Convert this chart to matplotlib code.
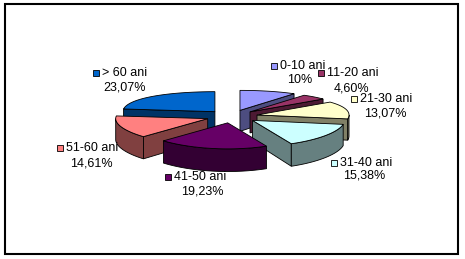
import numpy as np
import matplotlib
matplotlib.use("Agg")
import matplotlib.pyplot as plt
from matplotlib.patches import Polygon, Rectangle
from matplotlib.colors import to_rgb

# ---- data ----
categories = ["0-10 ani", "11-20 ani", "21-30 ani", "31-40 ani",
              "41-50 ani", "51-60 ani", "> 60 ani"]
values = [10.0, 4.60, 13.07, 15.38, 19.23, 14.61, 23.07]
pct_labels = ["10%", "4,60%", "13,07%", "15,38%", "19,23%", "14,61%", "23,07%"]

# ---- styles / layout ----
top_colors = ["#9999FF", "#993366", "#FFFFCC", "#CCFFFF",
              "#660066", "#FF8080", "#0066CC"]
# label layout (pixel positions): name-left x, name y, pct centre x, pct y
name_pos = [(280, 66), (327, 73), (360, 99), (340, 163),
            (174, 177), (66, 148), (102, 73)]
pct_pos = [(300, 80), (351, 88.5), (385, 114), (364, 176),
           (202, 191), (91, 163), (125, 87.5)]

W, H = 465, 259
fig = plt.figure(figsize=(W / 100, H / 100), dpi=100)
ax = fig.add_axes([0, 0, 1, 1])
ax.set_xlim(0, W)
ax.set_ylim(H, 0)
ax.axis("off")

cx, cy = 232, 116.5
rx, ry = 92, 23
persp = 3.0
depth = 21
explode = 0.28
lw = 0.6


def side_color(c):
    r, g, b = to_rgb(c)
    return (r / 2, g / 2, b / 2)


total = sum(values)
bounds = np.concatenate([[0], np.cumsum(values)]) / total * 360.0


def pt(theta, r, ox, oy, z=0.0):
    t = np.radians(theta)
    c = r * np.cos(t)
    return (cx + ox + r * rx * np.sin(t),
            cy + oy - ry * c + persp * c * c + z * (1 - 0.08 * c))


slices = []
for i, v in enumerate(values):
    a1, a2 = bounds[i], bounds[i + 1]
    mid = 0.5 * (a1 + a2)
    slices.append((np.cos(np.radians(mid)), i, a1, a2, mid))

# back to front
for _, i, a1, a2, mid in sorted(slices, key=lambda s: -s[0]):
    ox = explode * rx * np.sin(np.radians(mid))
    oy = -explode * ry * np.cos(np.radians(mid))
    tc = top_colors[i]
    sc = side_color(tc)
    apex_t = pt(0, 0, ox, oy)
    apex_b = pt(0, 0, ox, oy, depth)
    # radial faces
    if np.sin(np.radians(a1)) < -1e-9:
        poly = [apex_t, pt(a1, 1, ox, oy), pt(a1, 1, ox, oy, depth), apex_b]
        ax.add_patch(Polygon(poly, closed=True, fc=sc, ec="black", lw=lw))
    if np.sin(np.radians(a2)) > 1e-9:
        poly = [apex_t, pt(a2, 1, ox, oy), pt(a2, 1, ox, oy, depth), apex_b]
        ax.add_patch(Polygon(poly, closed=True, fc=sc, ec="black", lw=lw))
    # outer curved face
    lo, hi = max(a1, 90.0), min(a2, 270.0)
    if hi > lo:
        th = np.linspace(lo, hi, 60)
        topc = [pt(t, 1, ox, oy) for t in th]
        botc = [pt(t, 1, ox, oy, depth) for t in th[::-1]]
        ax.add_patch(Polygon(topc + botc, closed=True, fc=sc, ec="black", lw=lw))
    # top face
    th = np.linspace(a1, a2, 80)
    poly = [apex_t] + [pt(t, 1, ox, oy) for t in th]
    ax.add_patch(Polygon(poly, closed=True, fc=tc, ec="black", lw=lw))

# labels
font = dict(family=["Liberation Sans", "DejaVu Sans"], fontsize=9.0, color="black")
for i, name in enumerate(categories):
    nx, ny = name_pos[i]
    ax.add_patch(Rectangle((nx - 9, ny - 3), 6, 6, fc=top_colors[i],
                           ec="black", lw=0.6))
    ax.text(nx, ny, name, ha="left", va="center", **font)
    px, py = pct_pos[i]
    ax.text(px, py, pct_labels[i], ha="center", va="center", **font)

# chart border
ax.add_patch(Rectangle((5, 4), 453, 250, fill=False, ec="black", lw=1.5))

fig.savefig("out.png", dpi=100)
